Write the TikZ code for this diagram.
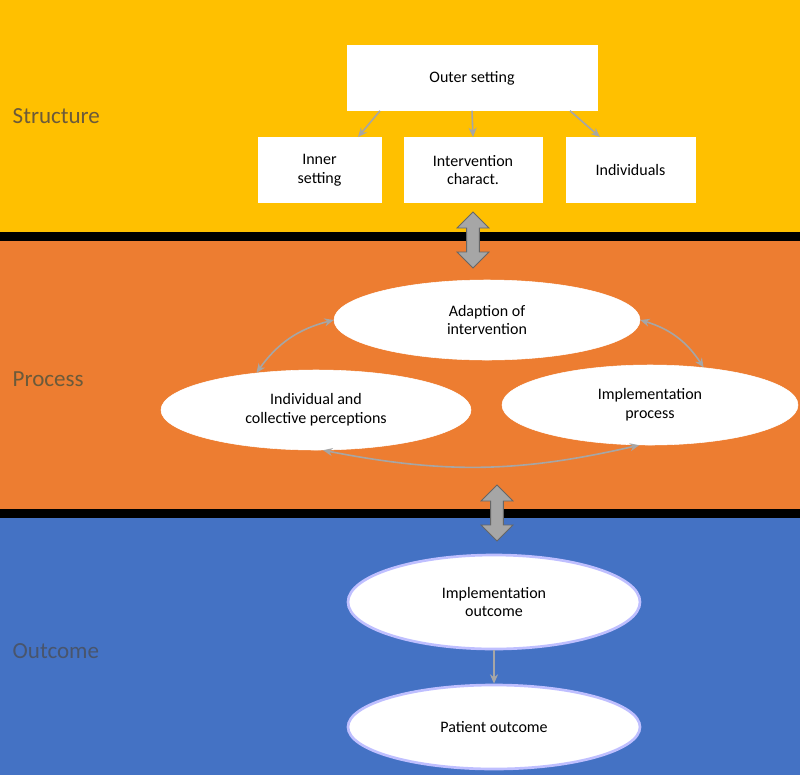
\documentclass[tikz,border=0pt]{standalone}
\usepackage{fontspec}
\setmainfont{Carlito}
\usetikzlibrary{arrows.meta,positioning,shapes.geometric,shapes.arrows}
\definecolor{bandyellow}{HTML}{FFC000}
\definecolor{bandorange}{HTML}{ED7D31}
\definecolor{bandblue}{HTML}{4472C4}
\definecolor{linkgray}{HTML}{A6A6A6}
\definecolor{labelgray}{HTML}{6B5A3A}
\tikzset{
  box/.style={draw=white,fill=white,align=center,font=\large,inner sep=2pt},
  oval/.style={ellipse,draw=white,fill=white,align=center,font=\large,inner sep=1pt},
  thinlink/.style={draw=linkgray,line width=1.2pt,-{Stealth[length=7pt,width=6pt]}},
  bothlink/.style={draw=linkgray,line width=1.2pt,{Stealth[length=7pt,width=6pt]}-{Stealth[length=7pt,width=6pt]}},
  bigarrow/.style={double arrow,rotate=90,fill=linkgray,draw=gray!80!black,line width=0.6pt,
    minimum width=24pt,double arrow head extend=5pt,inner sep=3pt},
  band label/.style={anchor=west,font=\LARGE,text=labelgray}
}
\begin{document}
\begin{tikzpicture}[x=0.75pt,y=-0.75pt]
\useasboundingbox (0,0) rectangle (800,775);
% Bands
\fill[bandyellow] (0,0) rectangle (800,234);
\fill[black] (0,232) rectangle (800,241);
\fill[bandorange] (0,241) rectangle (800,510);
\fill[black] (0,509) rectangle (800,518);
\fill[bandblue] (0,518) rectangle (800,775);

\node[band label] (structure) at (8,116) {Structure};
\node[band label] (process) at (8,379) {Process};
\node[band label,text=gray!60!bandblue!70!black] (outcome) at (8,651) {Outcome};

% Structure boxes
\node[box,minimum width=187.5pt,minimum height=48.75pt] (outer) at (472,78) {Outer setting};
\node[box,minimum width=92pt,minimum height=49pt] (inner) at (319.5,170) {Inner\\setting};
\node[box,minimum width=103.5pt,minimum height=49pt] (interv) at (473,170) {Intervention\\charact.};
\node[box,minimum width=97pt,minimum height=49pt] (indiv) at (630.5,170) {Individuals};

\draw[thinlink] (outer.south -| 380,0) -- (inner.north -| 358,0);
\draw[thinlink] (outer.south) -- (interv.north);
\draw[thinlink] (outer.south -| 570,0) -- (indiv.north -| 600,0);

% Process ellipses
\node[oval,minimum width=229.5pt,minimum height=60pt] (adapt) at (487,320) {Adaption of\\intervention};
\node[oval,minimum width=232.5pt,minimum height=60pt] (percept) at (316,410) {Individual and\\collective perceptions};
\node[oval,minimum width=222pt,minimum height=60pt] (implproc) at (650,405) {Implementation\\process};

\draw[bothlink] (adapt.west) to[bend right=20] (percept.148);
\draw[bothlink] (adapt.east) to[bend left=20] (implproc.35);
\draw[bothlink] (percept.-80) to[bend right=12] (implproc.-105);

% Outcome ellipses
\node[oval,draw=blue!25!white,line width=2pt,minimum width=219pt,minimum height=70.5pt] (implout) at (494,602) {Implementation\\outcome};
\node[oval,draw=blue!25!white,line width=2pt,minimum width=219pt,minimum height=63pt] (patient) at (494,727) {Patient outcome};
\draw[thinlink] (implout.south) -- (patient.north);

% Links between bands
\node[bigarrow,minimum height=42pt] (link1) at (473,240) {};
\node[bigarrow,minimum height=42pt] (link2) at (497,513) {};
\end{tikzpicture}
\end{document}
